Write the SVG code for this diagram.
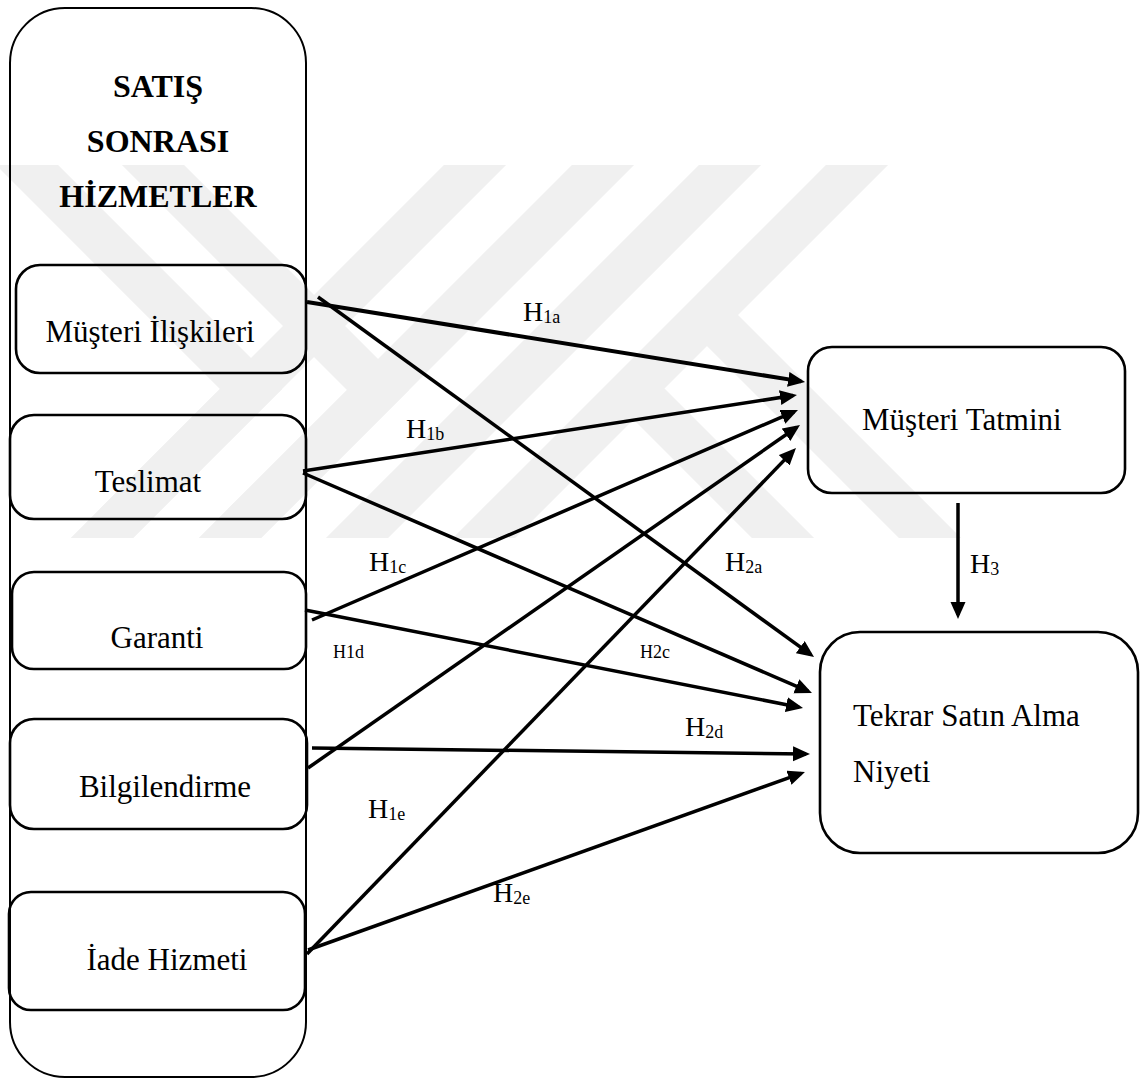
<svg xmlns="http://www.w3.org/2000/svg" width="1142" height="1082" viewBox="0 0 1142 1082">
<style>
.bg{fill:#ffffff}
.wm{fill:none;stroke:#f0f0f0;stroke-width:44;stroke-linejoin:miter;stroke-miterlimit:10}
.outer{fill:none;stroke:#000;stroke-width:2}
.box{fill:none;stroke:#000;stroke-width:2.6}
text{font-family:'Liberation Serif','Times New Roman','DejaVu Serif',serif;fill:#000}
.t{font-size:31px}
.hd{font-size:32px;font-weight:bold;text-anchor:middle}
.lbl{font-size:28px}
.sub{font-size:18px}
.sm{font-size:18px}
.c{fill:none;stroke:#000;stroke-width:3.5;marker-end:url(#ah)}
.ck{stroke-width:4}
</style>
<defs>
<marker id="ah" markerUnits="userSpaceOnUse" markerWidth="19" markerHeight="16" refX="13" refY="7.5" orient="auto"><path d="M0,0 L17,7.5 L0,15 z" fill="#000"/></marker>
<clipPath id="wmclip"><rect x="0" y="165" width="1142" height="373"/></clipPath>
</defs>
<rect class="bg" x="0" y="0" width="1142" height="1082"/>
<g id="watermark" clip-path="url(#wmclip)">
<polyline class="wm" points="2,140 251,389 77,563"/>
<polyline class="wm" points="128,140 378,390 205,563"/>
<line class="wm" x1="77" y1="563" x2="500" y2="140"/>
<line class="wm" x1="205" y1="563" x2="628" y2="140"/>
<line class="wm" x1="755" y1="140" x2="332" y2="563"/>
<line class="wm" x1="882" y1="140" x2="459" y2="563"/>
<line class="wm" x1="633" y1="388" x2="808" y2="563"/>
<line class="wm" x1="707" y1="315" x2="955" y2="563"/>
</g>
<g id="container">
<rect class="outer" x="10" y="8" width="296" height="1069" rx="55"/>
<text class="hd" x="158" y="97">SATIŞ</text>
<text class="hd" x="158" y="152">SONRASI</text>
<text class="hd" x="158" y="207">HİZMETLER</text>
</g>
<g id="n-musteri-iliskileri">
<rect class="box" x="16" y="265" width="290" height="108" rx="24"/>
<text class="t" x="150" y="342" text-anchor="middle">Müşteri İlişkileri</text>
</g>
<g id="n-teslimat">
<rect class="box" x="10" y="415" width="296" height="104" rx="24"/>
<text class="t" x="148" y="492" text-anchor="middle">Teslimat</text>
</g>
<g id="n-garanti">
<rect class="box" x="12" y="572" width="294" height="97" rx="22"/>
<text class="t" x="157" y="648" text-anchor="middle">Garanti</text>
</g>
<g id="n-bilgilendirme">
<rect class="box" x="10" y="719" width="297" height="110" rx="24"/>
<text class="t" x="165" y="797" text-anchor="middle">Bilgilendirme</text>
</g>
<g id="n-iade">
<rect class="box" x="9" y="892" width="296" height="118" rx="22"/>
<text class="t" x="167" y="970" text-anchor="middle">İade Hizmeti</text>
</g>
<g id="n-musteri-tatmini">
<rect class="box" x="808" y="347" width="317" height="146" rx="24"/>
<text class="t" x="862" y="430">Müşteri Tatmini</text>
</g>
<g id="n-tekrar">
<rect class="box" x="820" y="632" width="318" height="221" rx="40"/>
<text class="t" x="853" y="726">Tekrar Satın Alma</text>
<text class="t" x="853" y="782">Niyeti</text>
</g>
<g id="connectors">
<line class="c ck" x1="307" y1="302" x2="801.1" y2="381.4"/>
<line class="c" x1="303" y1="471" x2="793" y2="395.6"/>
<line class="c" x1="312" y1="620" x2="794.3" y2="411.6"/>
<line class="c" x1="308" y1="768" x2="796.7" y2="427.3"/>
<line class="c" x1="307" y1="954" x2="793.2" y2="450.9"/>
<line class="c" x1="318" y1="297" x2="810.8" y2="654.7"/>
<line class="c" x1="303" y1="473" x2="808.3" y2="691.4"/>
<line class="c" x1="305" y1="610" x2="799.1" y2="707.2"/>
<line class="c" x1="312" y1="748" x2="806" y2="753.95"/>
<line class="c" x1="308" y1="950" x2="801.2" y2="773.3"/>
<line class="c" x1="958" y1="503" x2="958" y2="615"/>
</g>
<g id="labels">
<text class="lbl" x="523" y="321">H<tspan class="sub" dy="2">1a</tspan></text>
<text class="lbl" x="406" y="438">H<tspan class="sub" dy="2">1b</tspan></text>
<text class="lbl" x="369" y="571">H<tspan class="sub" dy="2">1c</tspan></text>
<text class="lbl" x="725" y="571">H<tspan class="sub" dy="2">2a</tspan></text>
<text class="sm" x="333" y="658">H1d</text>
<text class="sm" x="640" y="658">H2c</text>
<text class="lbl" x="685" y="736">H<tspan class="sub" dy="2">2d</tspan></text>
<text class="lbl" x="368" y="818">H<tspan class="sub" dy="2">1e</tspan></text>
<text class="lbl" x="493" y="902">H<tspan class="sub" dy="2">2e</tspan></text>
<text class="lbl" x="970" y="573">H<tspan class="sub" dy="2">3</tspan></text>
</g>
</svg>
